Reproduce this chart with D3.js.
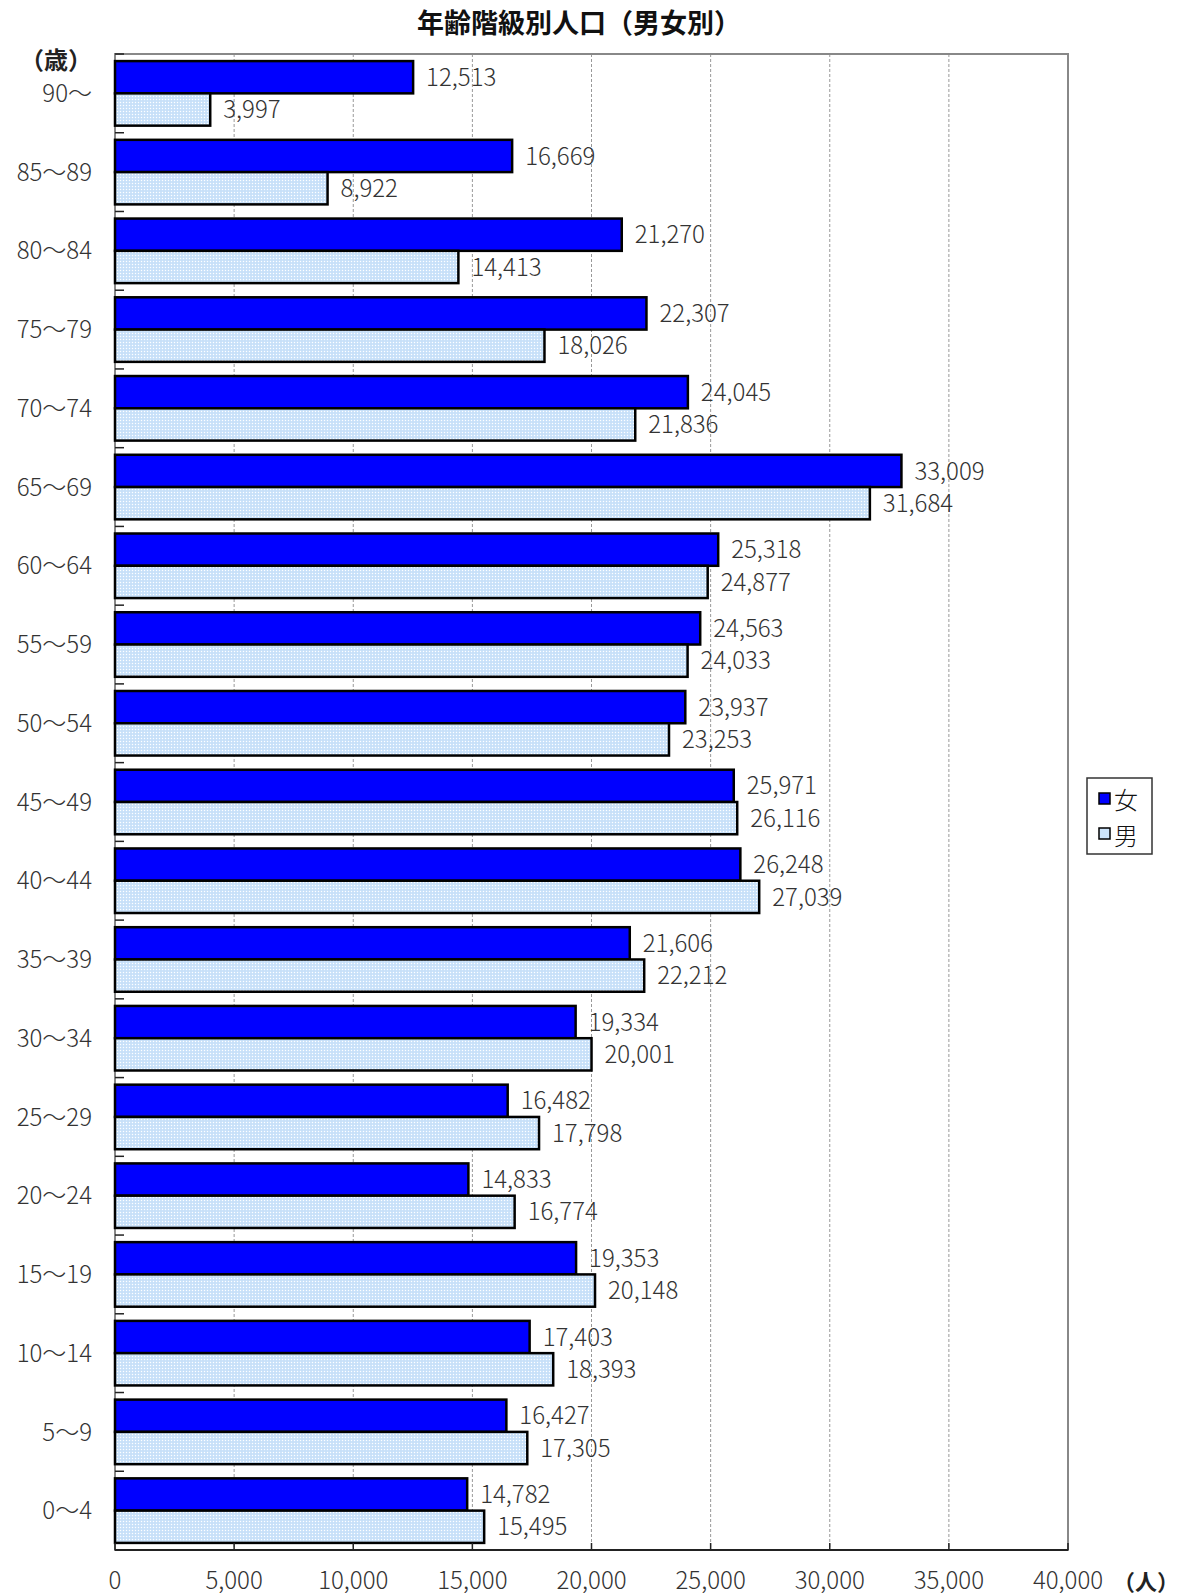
<!DOCTYPE html>
<html lang="ja">
<head>
<meta charset="utf-8">
<title>年齢階級別人口（男女別）</title>
<script src="https://d3js.org/d3.v7.min.js"></script>
<style>
body { margin:0; background:#fff; }
text { font-family: "Noto Sans CJK JP", "DejaVu Sans", sans-serif; }
</style>
</head>
<body>
<svg id="chart" width="1180" height="1595"></svg>
<script>
// data, top row first
var ages = ["90〜","85〜89","80〜84","75〜79","70〜74","65〜69","60〜64","55〜59","50〜54",
            "45〜49","40〜44","35〜39","30〜34","25〜29","20〜24","15〜19","10〜14","5〜9","0〜4"];
var female = [12513,16669,21270,22307,24045,33009,25318,24563,23937,25971,26248,21606,19334,16482,14833,19353,17403,16427,14782];
var male   = [3997,8922,14413,18026,21836,31684,24877,24033,23253,26116,27039,22212,20001,17798,16774,20148,18393,17305,15495];
var xTicks = [0,5000,10000,15000,20000,25000,30000,35000,40000];

var svg = d3.select("#chart");
// plot area (note: "top" is taken by window.top, so use pl/pr/pt/pb)
var pl = 115, pr = 1068, pt = 54, pb = 1550;

// dotted fill for the male bars
var defs = svg.append("defs");
var pat = defs.append("pattern").attr("id","dots").attr("patternUnits","userSpaceOnUse")
  .attr("width",3).attr("height",3);
pat.append("rect").attr("width",3).attr("height",3).attr("fill","#cde4fb");
pat.append("rect").attr("x",0).attr("y",0).attr("width",1).attr("height",1).attr("fill","#ffffff");
pat.append("rect").attr("x",1.5).attr("y",1.5).attr("width",1).attr("height",1).attr("fill","#b9d6f2");

var x = d3.scaleLinear().domain([0,40000]).range([pl,pr]);
var y = d3.scaleBand().domain(ages).range([pt,pb]).paddingInner(0.18).paddingOuter(0.09);
var y0 = d3.scaleBand().domain(ages).range([pt,pb]);

// title
svg.append("text").attr("x",579).attr("y",23).attr("dy","0.36em").attr("text-anchor","middle")
  .attr("font-size",27).attr("font-weight","bold").attr("fill","#111").text("年齢階級別人口（男女別）");

// grid
svg.append("g").selectAll("line").data(xTicks.slice(1,-1)).join("line")
  .attr("x1",d=>x(d)).attr("x2",d=>x(d)).attr("y1",pt).attr("y2",pb)
  .attr("stroke","#999").attr("stroke-width",1).attr("stroke-dasharray","3,2");

// plot frame
svg.append("rect").attr("x",pl).attr("y",pt).attr("width",pr-pl).attr("height",pb-pt)
  .attr("fill","none").attr("stroke","#888").attr("stroke-width",2);

// category boundary ticks on the left axis
svg.append("g").selectAll("line").data(ages).join("line")
  .attr("x1",pl).attr("x2",pl+9)
  .attr("y1",d=>y0(d)).attr("y2",d=>y0(d))
  .attr("stroke","#222").attr("stroke-width",1.5);

var bh = y.bandwidth()/2;

// bars
var g = svg.append("g");
g.selectAll("rect.f").data(ages).join("rect").attr("class","f")
  .attr("x",x(0)).attr("y",d=>y(d)).attr("width",(d,i)=>x(female[i])-x(0)).attr("height",bh)
  .attr("fill","#0000ff").attr("stroke","#000").attr("stroke-width",2.5);
g.selectAll("rect.m").data(ages).join("rect").attr("class","m")
  .attr("x",x(0)).attr("y",d=>y(d)+bh).attr("width",(d,i)=>x(male[i])-x(0)).attr("height",bh)
  .attr("fill","url(#dots)").attr("stroke","#000").attr("stroke-width",2.5);

// value labels
var fmt = d3.format(",");
g.selectAll("text.fv").data(ages).join("text").attr("class","fv")
  .attr("x",(d,i)=>x(female[i])+13).attr("y",d=>y(d)+bh/2).attr("dy","0.36em")
  .attr("font-size",24).attr("font-weight",300).attr("fill","#333").text((d,i)=>fmt(female[i]));
g.selectAll("text.mv").data(ages).join("text").attr("class","mv")
  .attr("x",(d,i)=>x(male[i])+13).attr("y",d=>y(d)+bh*1.5).attr("dy","0.36em")
  .attr("font-size",24).attr("font-weight",300).attr("fill","#333").text((d,i)=>fmt(male[i]));

// bottom axis
svg.append("line").attr("x1",pl).attr("x2",pr).attr("y1",pb).attr("y2",pb)
  .attr("stroke","#222").attr("stroke-width",2);
svg.append("g").selectAll("line").data(xTicks).join("line")
  .attr("x1",d=>x(d)).attr("x2",d=>x(d)).attr("y1",pb-7).attr("y2",pb)
  .attr("stroke","#222").attr("stroke-width",1.5);
svg.append("g").selectAll("text").data(xTicks).join("text")
  .attr("x",d=>x(d)).attr("y",1580).attr("dy","0.36em").attr("text-anchor","middle")
  .attr("font-size",24).attr("font-weight",300).attr("fill","#333").text(d=>fmt(d));
svg.append("text").attr("x",1113).attr("y",1582).attr("dy","0.36em").attr("font-size",22).attr("font-weight","bold")
  .attr("fill","#222").text("（人）");

// category labels
svg.append("g").selectAll("text").data(ages).join("text")
  .attr("x",92).attr("y",d=>y0(d)+y0.bandwidth()/2).attr("dy","0.36em").attr("text-anchor","end")
  .attr("font-size",24).attr("font-weight",300).attr("fill","#333").text(d=>d);
svg.append("text").attr("x",56).attr("y",60).attr("dy","0.36em").attr("text-anchor","middle")
  .attr("font-size",24).attr("font-weight","bold").attr("fill","#222").text("（歳）");

// legend
var lg = svg.append("g");
lg.append("rect").attr("x",1087).attr("y",778).attr("width",65).attr("height",76)
  .attr("fill","#fff").attr("stroke","#333").attr("stroke-width",1.5);
var legItems = [{label:"女", fill:"#0000ff"},{label:"男", fill:"#cde4fb"}];
lg.selectAll("rect.sw").data(legItems).join("rect").attr("class","sw")
  .attr("x",1099).attr("y",(d,i)=>793+i*35).attr("width",11).attr("height",11)
  .attr("fill",d=>d.fill).attr("stroke","#000").attr("stroke-width",1.5);
lg.selectAll("text").data(legItems).join("text")
  .attr("x",1114).attr("y",(d,i)=>800+i*36).attr("dy","0.36em")
  .attr("font-size",24).attr("font-weight",300).attr("fill","#111").text(d=>d.label);
</script>
</body>
</html>
